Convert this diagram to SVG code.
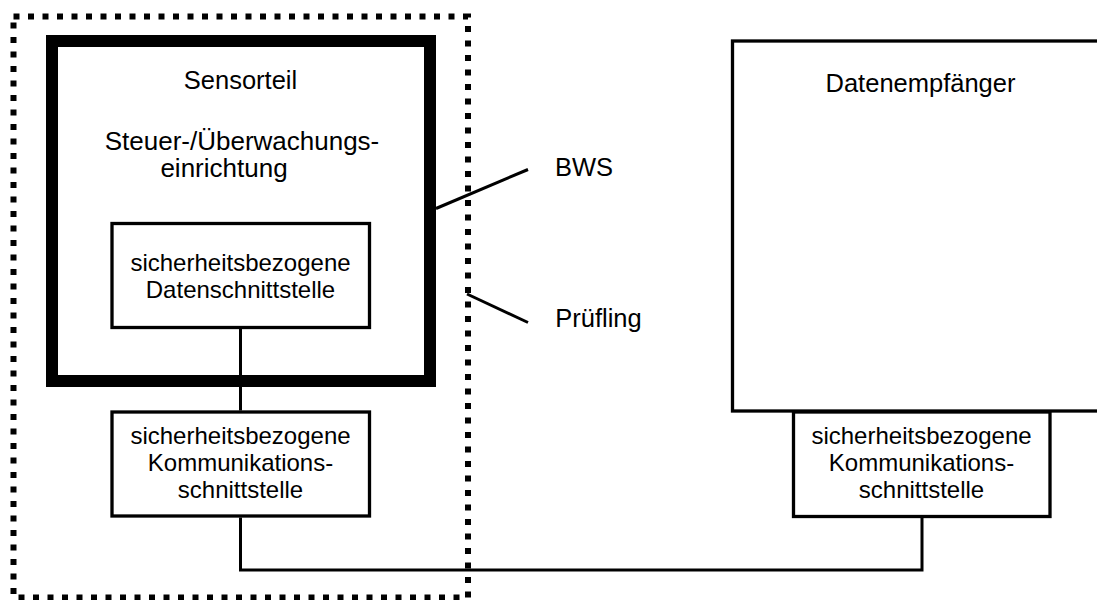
<svg xmlns="http://www.w3.org/2000/svg" width="1097" height="600" viewBox="0 0 1097 600">
<style>
text{font-family:"Liberation Sans",Arial,sans-serif;fill:#000;text-anchor:middle}
.lbl{font-size:25.5px}
.sm{font-size:24px}
.box{fill:#fff;stroke:#000;stroke-width:3.3}
.ln{fill:none;stroke:#000;stroke-width:3}
</style>
<rect width="1097" height="600" fill="#fff"/>
<g id="pruefling">
<rect x="13.5" y="16.5" width="454.5" height="581" fill="none" stroke="#000" stroke-width="6" stroke-dasharray="6 8.5"/>
</g>
<g id="datenempfaenger">
<rect class="box" x="732.5" y="41" width="400" height="370"/>
<text class="lbl" x="920.5" y="91.5">Datenempfänger</text>
</g>
<g id="sensorteil">
<rect x="52" y="41" width="378" height="340" fill="#fff" stroke="#000" stroke-width="12"/>
<text class="lbl" x="240.5" y="89">Sensorteil</text>
<text class="lbl" x="242" y="149.5" style="font-size:26px">Steuer-/Überwachungs-</text>
<text class="lbl" x="224" y="177" style="font-size:26px">einrichtung</text>
</g>
<g id="datenschnittstelle">
<rect class="box" x="112" y="223.5" width="257.5" height="104"/>
<text class="sm" x="240.5" y="271">sicherheitsbezogene</text>
<text class="sm" x="240.5" y="298">Datenschnittstelle</text>
</g>
<g id="komm-links">
<rect class="box" x="112" y="412" width="257.5" height="104"/>
<text class="sm" x="240.5" y="443.5">sicherheitsbezogene</text>
<text class="sm" x="240.5" y="470.5">Kommunikations-</text>
<text class="sm" x="240.5" y="497.5">schnittstelle</text>
</g>
<g id="komm-rechts">
<rect class="box" x="793.5" y="412" width="256.5" height="104.5"/>
<text class="sm" x="921.5" y="444">sicherheitsbezogene</text>
<text class="sm" x="921.5" y="471">Kommunikations-</text>
<text class="sm" x="921.5" y="498">schnittstelle</text>
</g>
<g id="labels">
<text class="lbl" x="584" y="176">BWS</text>
<text class="lbl" x="598.5" y="326.5">Prüfling</text>
</g>
<g id="connectors">
<line class="ln" x1="240.5" y1="329" x2="240.5" y2="410.5"/>
<polyline class="ln" points="240.5,517.5 240.5,570 922,570 922,518"/>
<line class="ln" x1="436" y1="208.5" x2="528" y2="169.5"/>
<line class="ln" x1="467" y1="294" x2="528" y2="322.5"/>
</g>
</svg>
